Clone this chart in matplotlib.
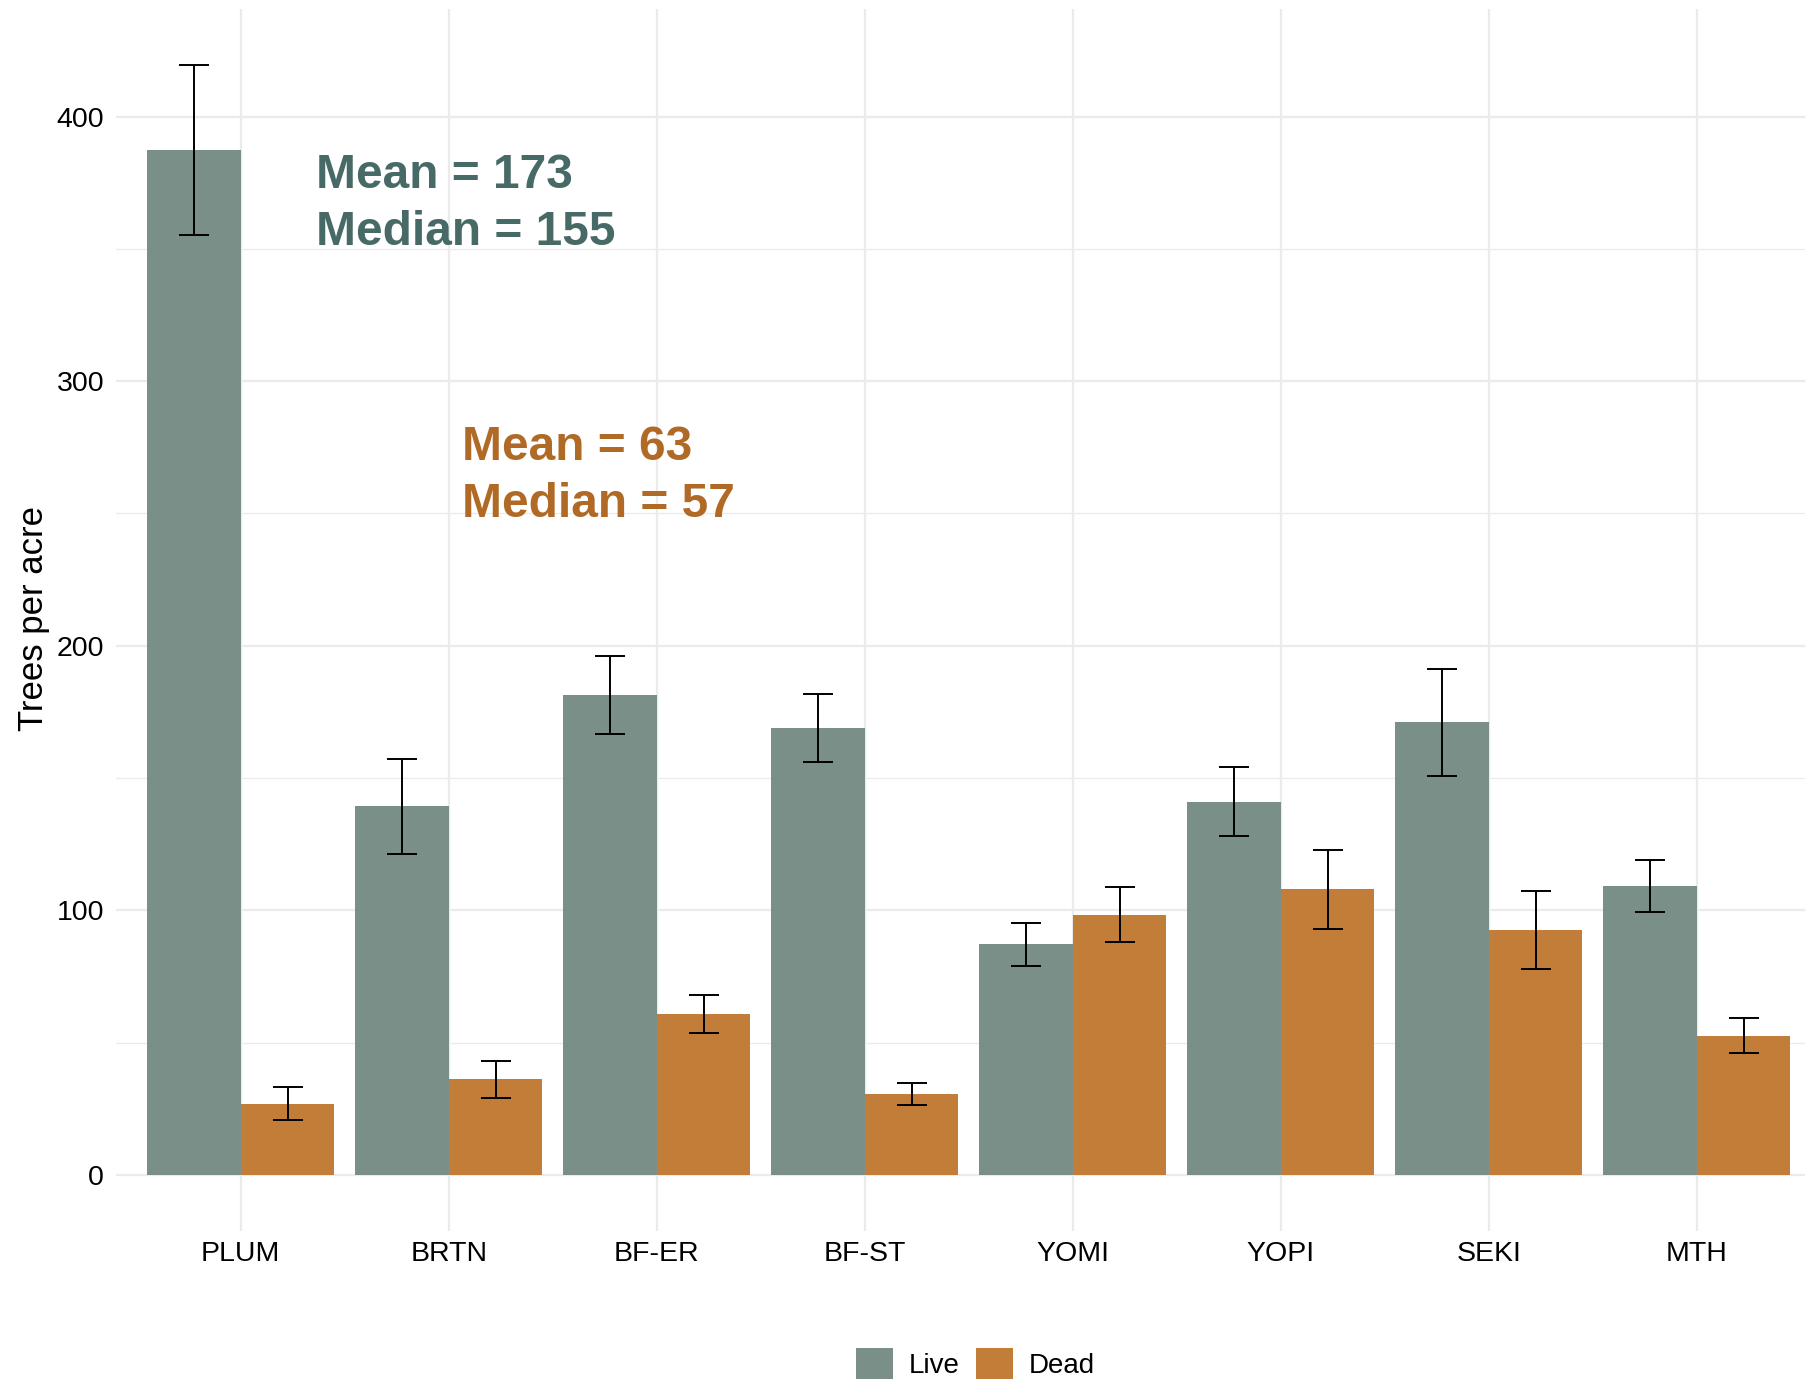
import numpy as np
import matplotlib
matplotlib.use("Agg")
import matplotlib.pyplot as plt
from matplotlib.patches import Patch

plt.rcParams["font.family"] = ["Liberation Sans", "DejaVu Sans"]

# Trees per acre by site, live vs dead, with standard errors
sites = ["PLUM", "BRTN", "BF-ER", "BF-ST", "YOMI", "YOPI", "SEKI", "MTH"]
live_tpa = [387.4, 139.3, 181.5, 168.9, 87.1, 141.0, 171.1, 109.2]
live_se = [32.0, 17.9, 14.8, 13.0, 8.0, 13.0, 20.2, 9.8]
dead_tpa = [27.0, 36.1, 60.9, 30.5, 98.4, 107.9, 92.7, 52.7]
dead_se = [6.1, 7.0, 7.2, 4.1, 10.5, 15.0, 14.8, 6.5]
status_labels = ["Live", "Dead"]

live_col = "#7a8f87"
dead_col = "#c27d39"
live_txt = "#476a67"
dead_txt = "#b06a26"

fig = plt.figure(figsize=(18.06, 13.82), dpi=100)
ax = fig.add_axes([0.0642, 0.1096, 1 - 0.0642, 0.9934 - 0.1096])

x = np.arange(1, len(sites) + 1)
w = 0.45
ax.bar(x - w / 2, live_tpa, width=w, color=live_col, zorder=2)
ax.bar(x + w / 2, dead_tpa, width=w, color=dead_col, zorder=2)
err_kw = dict(fmt="none", ecolor="black", elinewidth=1.4, capsize=10.5, capthick=1.4, zorder=3)
ax.errorbar(x - w / 2, live_tpa, yerr=live_se, **err_kw)
ax.errorbar(x + w / 2, dead_tpa, yerr=dead_se, **err_kw)

# summary statistics
live_mean, live_med = np.mean(live_tpa), np.median(live_tpa)
dead_mean, dead_med = np.mean(dead_tpa), np.median(dead_tpa)
txt_kw = dict(fontsize=34.5, fontweight="bold", ha="left", va="baseline", zorder=4)
ax.text(1.36, 372.9, f"Mean = {live_mean:.0f}", color=live_txt, **txt_kw)
ax.text(1.36, 351.4, f"Median = {live_med:.0f}", color=live_txt, **txt_kw)
ax.text(2.062, 270.2, f"Mean = {dead_mean:.0f}", color=dead_txt, **txt_kw)
ax.text(2.062, 248.8, f"Median = {dead_med:.0f}", color=dead_txt, **txt_kw)

ax.set_xlim(0.4, 8.525)
ax.set_ylim(-21, 440.6)
ax.set_xticks(x)
ax.set_xticklabels(sites, fontsize=21.5)
ax.set_yticks([0, 100, 200, 300, 400])
ax.set_yticks([50, 150, 250, 350], minor=True)
ax.tick_params(axis="both", which="both", length=0, labelsize=20.5)
ax.tick_params(axis="x", pad=7.5)
ax.tick_params(axis="y", pad=8.5)
ax.set_xticks([], minor=True)
ax.grid(True, which="major", color="#ebebeb", linewidth=1.6, zorder=0)
ax.grid(True, which="minor", axis="y", color="#ebebeb", linewidth=0.9, zorder=0)
ax.set_axisbelow(True)
for s in ax.spines.values():
    s.set_visible(False)
ax.set_ylabel("Trees per acre", fontsize=25)
ax.yaxis.set_label_coords(-0.0388, 0.501)

handles = [Patch(facecolor=live_col), Patch(facecolor=dead_col)]
fig.legend(handles, status_labels, loc="center", bbox_to_anchor=(0.540, 0.0134),
           ncol=2, frameon=False, fontsize=20, handlelength=1.32, handleheight=1.32,
           handletextpad=0.56, columnspacing=0.61, borderpad=0, borderaxespad=0)

fig.savefig("out.png", dpi=100, facecolor="white")
